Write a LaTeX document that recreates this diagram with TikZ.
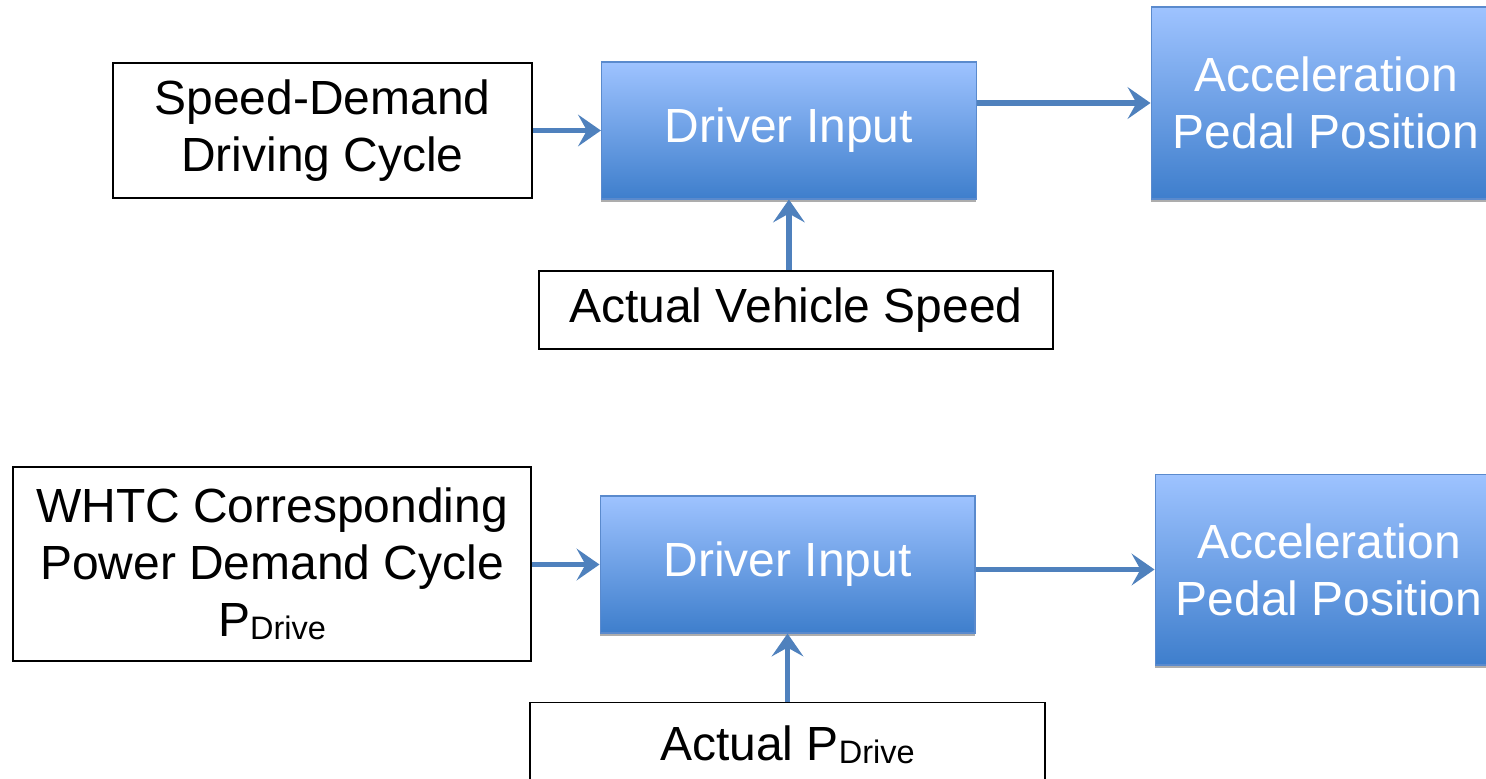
\documentclass[tikz,border=0pt]{standalone}
\usepackage{fontspec}
\setmainfont{Liberation Sans}
\usetikzlibrary{arrows.meta,positioning,shadows}

\definecolor{flowblue}{RGB}{79,129,189}
\definecolor{blocktop}{RGB}{158,195,255}
\definecolor{blockbot}{RGB}{62,126,204}
\definecolor{blockedge}{RGB}{90,138,205}

\newcommand{\pdrive}{P\raisebox{-0.12ex}{\fontsize{18.5}{20}\selectfont Drive}}

\begin{document}
\begin{tikzpicture}[x=0.02cm,y=-0.02cm,
  inbox/.style={draw,line width=1.1pt,align=center,inner sep=0pt,
    font=\fontsize{27.3}{32.5}\selectfont},
  block/.style={draw=blockedge,line width=0.6pt,top color=blocktop,
    bottom color=blockbot,text=white,align=center,inner sep=0pt,
    font=\fontsize{27.3}{32.5}\selectfont,
    drop shadow={shadow xshift=0pt,shadow yshift=-1.6pt,fill=gray!80,opacity=0.8}},
  flow/.style={draw=flowblue,line width=3.1pt,
    -{Stealth[length=13pt,width=18pt,inset=5pt]}}]
  \useasboundingbox (0,0) rectangle (1486,778);

  % speed demand loop
  \node[inbox,minimum width=8.38cm,minimum height=2.7cm] (cycle) at (322.5,130.5)
    {Speed-Demand\\Driving Cycle};
  \node[block,minimum width=7.5cm,minimum height=2.74cm,right=1.36cm of cycle] (driver)
    {Driver Input};
  \node[block,minimum width=7cm,minimum height=3.84cm] (accel) at (1326,103)
    {Acceleration\\Pedal Position};
  \node[inbox,minimum width=10.28cm,minimum height=1.56cm] (speed) at (796,310)
    {Actual Vehicle Speed};
  \draw[flow] (cycle)--(driver);
  \draw[flow] (driver.east |- accel.west)--(accel.west);
  \draw[flow] (speed.north -| driver.south)--(driver.south);

  % power demand loop
  \node[inbox,minimum width=10.36cm,minimum height=3.88cm] (whtc) at (272,564)
    {WHTC Corresponding\\Power Demand Cycle\\\pdrive};
  \node[block,minimum width=7.5cm,minimum height=2.74cm] (driver2) at (787.5,564.5)
    {Driver Input};
  \node[block,minimum width=6.96cm,minimum height=3.82cm] (accel2) at (1329,569.5)
    {Acceleration\\Pedal Position};
  \node[inbox,minimum width=10.3cm,minimum height=1.7cm] (power) at (787.5,745)
    {Actual \pdrive};
  \draw[flow] (whtc.east |- driver2.west)--(driver2.west);
  \draw[flow] (driver2.east |- accel2.west)--(accel2.west);
  \draw[flow] (power.north -| driver2.south)--(driver2.south);
\end{tikzpicture}
\end{document}
